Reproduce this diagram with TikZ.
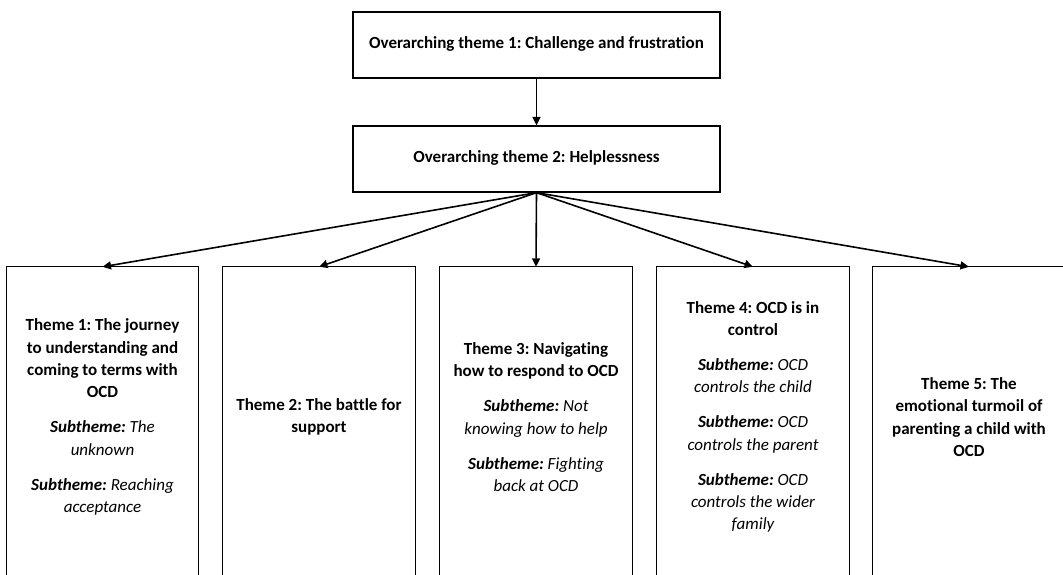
\documentclass[tikz,border=0pt]{standalone}
\usepackage{fontspec}
\setmainfont[Ligatures=NoCommon]{Carlito}
\usetikzlibrary{arrows.meta}
\newcommand{\subthm}{{\bfseries\itshape Subtheme:}}
\newcommand{\itl}[1]{{\mdseries\itshape #1}}
\begin{document}
\frenchspacing
\begin{tikzpicture}[x=1pt,y=-1pt,
  topbox/.style={draw, line width=1.3pt, minimum width=367pt, minimum height=66pt,
    inner sep=0pt, font=\fontsize{17}{22.3}\selectfont\bfseries},
  themebox/.style={minimum width=192pt, minimum height=302pt, inner sep=0pt,
    align=center, font=\fontsize{17}{22.3}\selectfont\bfseries},
  outline/.style={draw, line width=1.3pt},
  arr/.style={line width=1.6pt, -{Triangle[length=8.5pt,width=8pt]}}]
\useasboundingbox (0,0) rectangle (1063,575);
\clip (0,0) rectangle (1063,575);
\fill[white] (0,0) rectangle (1063,575);

\node[topbox] (o1) at (536.5,45) {\raisebox{5pt}{Overarching theme 1: Challenge and frustration}};
\node[topbox] (o2) at (536.5,159) {\raisebox{5pt}{Overarching theme 2: Helplessness}};

\node[themebox] (b1) at (102.5,417) {Theme 1: The journey\\ to understanding and\\ coming to terms with\\ OCD\\[12.7pt]
  \subthm\ \itl{The}\\ \itl{unknown}\\[12.7pt] \subthm\ \itl{Reaching}\\ \itl{acceptance}};
\node[themebox] (b2) at (319,417) {Theme 2: The battle for\\ support};
\node[themebox] (b3) at (536,417) {Theme 3: Navigating\\ how to respond to OCD\\[12.7pt]
  \subthm\ \itl{Not}\\ \itl{knowing how to help}\\[12.7pt] \subthm\ \itl{Fighting}\\ \itl{back at OCD}};
\node[themebox] (b4) at (753,417) {Theme 4: OCD is in\\ control\\[12.7pt]
  \subthm\ \itl{OCD}\\ \itl{controls the child}\\[12.7pt] \subthm\ \itl{OCD}\\ \itl{controls the parent}\\[12.7pt]
  \subthm\ \itl{OCD}\\ \itl{controls the wider}\\ \itl{family}};
\node[themebox] (b5) at (969,417) {Theme 5: The\\ emotional turmoil of\\ parenting a child with\\ OCD};

\foreach \n in {b1,b2,b3,b4,b5}
  \draw[outline] ([yshift=-30pt]\n.south west) -- ([yshift=-1pt]\n.north west) -- ([yshift=-1pt]\n.north east) -- ([yshift=-30pt]\n.south east);

\draw[arr] (o1.south) -- (o2.north);
\foreach \n in {b1,b2,b3,b4,b5}
  \draw[arr] (o2.south) -- ([yshift=-1pt]\n.north);
\end{tikzpicture}
\end{document}
